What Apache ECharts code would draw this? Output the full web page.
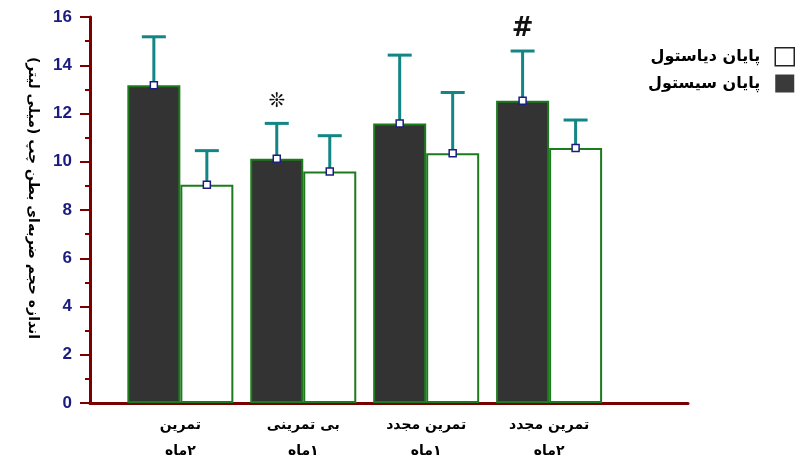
<!DOCTYPE html>
<html>
<head>
<meta charset="utf-8">
<script src="https://cdn.jsdelivr.net/npm/echarts@6/dist/echarts.min.js"></script>
<style>
    html, body { margin: 0; background: #fff; }
    #chart { width: 800px; height: 461px; }
</style>
</head>
<body>
<div id="chart"></div>
<script>
// groups (x labels, two lines each)
const groups = ['تمرین\n\u200F۲ماه', 'بی تمرینی\n\u200F۱ماه', 'تمرین مجدد\n\u200F۱ماه', 'تمرین مجدد\n\u200F۲ماه'];
// end systole (dark bars) and end diastole (white bars)
const systole = [13.17, 10.12, 11.59, 12.53];
const systoleErr = [2.01, 1.47, 2.83, 2.06];
const diastole = [9.05, 9.60, 10.35, 10.57];
const diastoleErr = [1.41, 1.48, 2.52, 1.16];
const notes = ['', '❊', '', '#'];
const yTicks = [0, 2, 4, 6, 8, 10, 12, 14, 16];

const yTitle = 'اندازه حجم ضربه‌ای بطن چپ (میلی لیتر)';
const nameSys = 'پایان سیستول';
const nameDia = 'پایان دیاستول';

const axisRed = '#7a0000';
const green = '#1c7c1c';
const teal = '#138585';
const navy = '#1c1c80';
const barW = 53;

const chart = echarts.init(document.getElementById('chart'));

// error bar + little square marker, drawn at bar offset (side = -1 left bar, +1 right bar)
const errorSeries = (vals, errs, side, marks) => ({
    type: 'custom',
    name: 'err' + side,
    z: 5,
    data: vals.map((v, i) => [i, v, v + errs[i]]),
    encode: { x: 0, y: [1, 2] },
    renderItem: (params, api) => {
        const x = api.value(0)
        const base = api.coord([x, api.value(1)])
        const top = api.coord([x, api.value(2)])
        const cx = base[0] + side * barW / 2
        const kids = [
            { type: 'line', shape: { x1: cx, y1: base[1], x2: cx, y2: top[1] }, style: { stroke: teal, lineWidth: 3 } },
            { type: 'line', shape: { x1: cx - 12, y1: top[1], x2: cx + 12, y2: top[1] }, style: { stroke: teal, lineWidth: 3 } },
            { type: 'rect', shape: { x: cx - 3.5, y: base[1] - 3.5, width: 7, height: 7 }, style: { fill: '#fff', stroke: navy, lineWidth: 1.5 } }
        ]
        const m = marks && marks[params.dataIndex]
        if (m) {
            kids.push({
                type: 'text',
                style: {
                    text: m, x: cx, y: top[1] - 22, align: 'center', verticalAlign: 'middle',
                    font: m === '#' ? 'bold 26px "DejaVu Sans"' : 'bold 20px "DejaVu Sans"', fill: '#111'
                }
            })
        }
        return { type: 'group', children: kids }
    }
})

const option = {
    animation: false,
    backgroundColor: '#fff',
    grid: { left: 90, right: 112, top: 17, bottom: 58, outerBoundsMode: 'none' },
    legend: {
        orient: 'vertical',
        right: 0,
        top: 42,
        align: 'right',
        icon: 'rect',
        itemWidth: 19,
        itemHeight: 18,
        itemGap: 8,
        textStyle: { fontFamily: 'DejaVu Sans', fontWeight: 'bold', fontSize: 16, color: '#000', padding: [0, 10, 0, 0] },
        data: [
            { name: nameDia, itemStyle: { color: '#fff', borderColor: '#222', borderWidth: 1.5 } },
            { name: nameSys, itemStyle: { color: '#3a3a3a', borderWidth: 0 } }
        ]
    },
    xAxis: {
        type: 'value',
        min: -0.735,
        max: 4.13,
        axisLine: { show: true, onZero: false, lineStyle: { color: axisRed, width: 3 } },
        axisTick: { show: false },
        splitLine: { show: false },
        axisLabel: {
            customValues: [0, 1, 2, 3],
            formatter: (v) => groups[Math.round(v)] || '',
            color: '#000',
            fontFamily: 'DejaVu Sans',
            fontWeight: 'bold',
            fontSize: 14,
            lineHeight: 26,
            margin: 9
        }
    },
    yAxis: {
        type: 'value',
        min: 0,
        max: 16,
        interval: 2,
        name: yTitle,
        nameLocation: 'middle',
        nameRotate: -90,
        nameGap: 50,
        nameTextStyle: { fontFamily: 'DejaVu Sans', fontWeight: 'bold', fontSize: 14, color: '#000', padding: [0, 24, 0, 0] },
        axisLine: { show: true, onZero: false, lineStyle: { color: axisRed, width: 3 } },
        axisTick: { show: true, inside: false, length: 10, lineStyle: { color: axisRed, width: 2 } },
        minorTick: { show: true, splitNumber: 2, length: 5, lineStyle: { color: axisRed, width: 2 } },
        splitLine: { show: false },
        axisLabel: {
            formatter: (v) => yTicks.includes(v) ? String(v) : '',
            color: navy,
            fontFamily: 'Liberation Sans',
            fontWeight: 'bold',
            fontSize: 17,
            margin: 18
        }
    },
    series: [
        {
            name: nameSys,
            type: 'bar',
            barWidth: barW,
            barGap: '0%',
            data: systole.map((v, i) => [i, v]),
            itemStyle: { color: '#333333', borderColor: green, borderWidth: 2 }
        },
        {
            name: nameDia,
            type: 'bar',
            barWidth: barW,
            barGap: '0%',
            data: diastole.map((v, i) => [i, v]),
            itemStyle: { color: '#ffffff', borderColor: green, borderWidth: 2 }
        },
        errorSeries(systole, systoleErr, -1, notes),
        errorSeries(diastole, diastoleErr, 1, null)
    ]
}

chart.setOption(option)
</script>
</body>
</html>
